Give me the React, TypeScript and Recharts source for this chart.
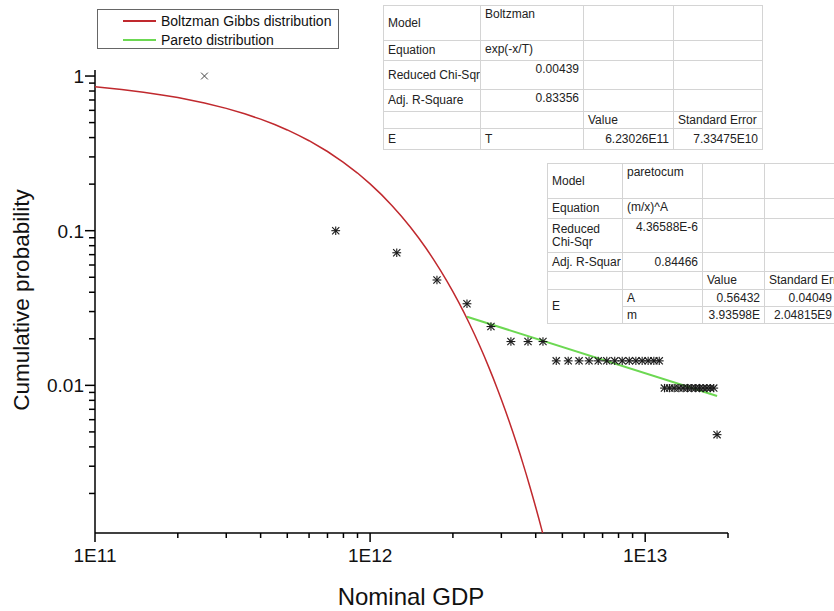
import React from "react";
import { ScatterChart, Scatter, XAxis, YAxis } from "recharts";

// observed points (nominal GDP, cumulative probability)
const gdp = [
  0.25e12, 0.75e12, 1.25e12, 1.75e12, 2.25e12, 2.75e12, 3.25e12, 3.75e12, 4.25e12,
  4.75e12, 5.25e12, 5.75e12, 6.25e12, 6.75e12, 7.25e12, 7.75e12, 8.25e12, 8.75e12,
  9.25e12, 9.75e12, 10.25e12, 10.75e12, 11.25e12,
  11.75e12, 12.25e12, 12.75e12, 13.25e12, 13.75e12, 14.25e12, 14.75e12, 15.25e12,
  15.75e12, 16.25e12, 16.75e12, 17.25e12, 17.75e12,
  18.25e12,
];
const cumProb = [
  1, 0.1, 0.072, 0.048, 0.0337, 0.024, 0.0192, 0.0192, 0.0192,
  0.0144, 0.0144, 0.0144, 0.0144, 0.0144, 0.0144, 0.0144, 0.0144, 0.0144,
  0.0144, 0.0144, 0.0144, 0.0144, 0.0144,
  0.0096, 0.0096, 0.0096, 0.0096, 0.0096, 0.0096, 0.0096, 0.0096,
  0.0096, 0.0096, 0.0096, 0.0096, 0.0096,
  0.0048,
];

// Boltzman Gibbs fit
const bgX = [
  1e11, 1.25e11, 1.5e11, 1.75e11, 2e11, 2.5e11, 3e11, 3.5e11, 4e11, 4.5e11, 5e11, 5.5e11,
  6e11, 7e11, 8e11, 9e11, 10e11, 11e11, 12e11, 13e11, 14e11, 15e11, 16e11, 17e11, 18e11,
  19e11, 20e11, 21e11, 22e11, 23e11, 24e11, 25e11, 26e11, 27e11, 28e11, 29e11, 30e11,
  31e11, 32e11, 33e11, 34e11, 35e11, 36e11, 37e11, 38e11, 39e11, 40e11, 41e11, 42e11,
  43e11, 44e11,
];
const bgY = [
  0.8517, 0.8182, 0.786, 0.7551, 0.7254, 0.6695, 0.6179, 0.5702, 0.5262, 0.4856, 0.4482,
  0.4136, 0.3817, 0.3251, 0.2769, 0.2359, 0.2009, 0.1711, 0.1457, 0.1241, 0.1057, 0.09,
  0.07667, 0.0653, 0.05562, 0.04737, 0.04036, 0.03437, 0.02928, 0.02493, 0.02124,
  0.01809, 0.01541, 0.01312, 0.01118, 0.009521, 0.008108, 0.006906, 0.005882, 0.00501,
  0.004267, 0.003634, 0.003095, 0.002636, 0.002245, 0.001912, 0.001629, 0.001387,
  0.001181, 0.001006, 0.000857,
];

// Pareto fit, straight in log-log
const paretoX = [2.25e12, 1.825e13];
const paretoY = [0.0278, 0.00853];

const X_TICKS = [
  1e11, 2e11, 3e11, 4e11, 5e11, 6e11, 7e11, 8e11, 9e11,
  1e12, 2e12, 3e12, 4e12, 5e12, 6e12, 7e12, 8e12, 9e12,
  1e13, 2e13,
];
const X_MAJOR = [1e11, 1e12, 1e13];
const Y_TICKS = [
  0.002, 0.003, 0.004, 0.005, 0.006, 0.007, 0.008, 0.009,
  0.01, 0.02, 0.03, 0.04, 0.05, 0.06, 0.07, 0.08, 0.09,
  0.1, 0.2, 0.3, 0.4, 0.5, 0.6, 0.7, 0.8, 0.9, 1,
];
const Y_MAJOR = [0.01, 0.1, 1];

const RED = "#c0292e";
const GREEN = "#6cd852";
const FONT = "'Liberation Sans', Arial, sans-serif";

const points = gdp.map((x, i) => ({ x, y: cumProb[i] }));
const bgLine = bgX.map((x, i) => ({ x, y: bgY[i] }));
const paretoLine = paretoX.map((x, i) => ({ x, y: paretoY[i] }));

function XTick({ x, y, payload }: any) {
  const major = X_MAJOR.includes(payload.value);
  return (
    <g>
      <line x1={x} y1={y} x2={x} y2={y + (major ? 9 : 5)} stroke="#000" strokeWidth={1.5} />
      {major && (
        <text x={x} y={y + 29} textAnchor="middle" fontSize={19} fontFamily={FONT} fill="#111">
          {"1E" + Math.round(Math.log10(payload.value))}
        </text>
      )}
    </g>
  );
}

function YTick({ x, y, payload }: any) {
  const major = Y_MAJOR.includes(payload.value);
  return (
    <g>
      <line x1={x} y1={y} x2={x - (major ? 10 : 6)} y2={y} stroke="#000" strokeWidth={1.5} />
      {major && (
        <text x={x - 11} y={y + 7} textAnchor="end" fontSize={19} fontFamily={FONT} fill="#111">
          {String(payload.value)}
        </text>
      )}
    </g>
  );
}

function Star({ cx, cy }: any) {
  const r = 3.6;
  return (
    <g stroke="#1a1a1a" strokeWidth={1.1}>
      <line x1={cx - r} y1={cy - r} x2={cx + r} y2={cy + r} />
      <line x1={cx - r} y1={cy + r} x2={cx + r} y2={cy - r} />
      <line x1={cx} y1={cy - r - 0.6} x2={cx} y2={cy + r + 0.6} />
      <line x1={cx - r - 0.8} y1={cy} x2={cx + r + 0.8} y2={cy} />
    </g>
  );
}

function Cross({ cx, cy }: any) {
  const r = 3.4;
  return (
    <g stroke="#444" strokeWidth={1}>
      <line x1={cx - r} y1={cy - r} x2={cx + r} y2={cy + r} />
      <line x1={cx - r} y1={cy + r} x2={cx + r} y2={cy - r} />
    </g>
  );
}

const cell: React.CSSProperties = {
  border: "1px solid #d4d4d4",
  padding: "0 4px",
  whiteSpace: "nowrap",
  overflow: "hidden",
  verticalAlign: "middle",
  textAlign: "left",
};
const topL: React.CSSProperties = { ...cell, verticalAlign: "top", paddingTop: 2 };
const topR: React.CSSProperties = { ...cell, verticalAlign: "top", paddingTop: 2, textAlign: "right" };
const right: React.CSSProperties = { ...cell, textAlign: "right" };

function BoltzmanTable() {
  return (
    <table
      style={{
        position: "absolute",
        left: 383,
        top: 5,
        borderCollapse: "collapse",
        tableLayout: "fixed",
        width: 379,
        background: "#fff",
        border: "1px solid #9a9a9a",
        fontSize: 12,
        color: "#222",
        lineHeight: "13px",
      }}
    >
      <colgroup>
        <col style={{ width: 97 }} />
        <col style={{ width: 103 }} />
        <col style={{ width: 90 }} />
        <col style={{ width: 89 }} />
      </colgroup>
      <tbody>
        <tr style={{ height: 35 }}>
          <td style={cell}>Model</td>
          <td style={topL}>Boltzman</td>
          <td style={cell} />
          <td style={cell} />
        </tr>
        <tr style={{ height: 20 }}>
          <td style={cell}>Equation</td>
          <td style={topL}>exp(-x/T)</td>
          <td style={cell} />
          <td style={cell} />
        </tr>
        <tr style={{ height: 29 }}>
          <td style={cell}>Reduced Chi-Sqr</td>
          <td style={topR}>0.00439</td>
          <td style={cell} />
          <td style={cell} />
        </tr>
        <tr style={{ height: 22 }}>
          <td style={cell}>Adj. R-Square</td>
          <td style={topR}>0.83356</td>
          <td style={cell} />
          <td style={cell} />
        </tr>
        <tr style={{ height: 17 }}>
          <td style={cell} />
          <td style={cell} />
          <td style={cell}>Value</td>
          <td style={cell}>Standard Error</td>
        </tr>
        <tr style={{ height: 21 }}>
          <td style={cell}>E</td>
          <td style={cell}>T</td>
          <td style={right}>6.23026E11</td>
          <td style={right}>7.33475E10</td>
        </tr>
      </tbody>
    </table>
  );
}

function ParetoTable() {
  return (
    <table
      style={{
        position: "absolute",
        left: 547,
        top: 163,
        borderCollapse: "collapse",
        tableLayout: "fixed",
        width: 289,
        background: "#fff",
        border: "1px solid #9a9a9a",
        fontSize: 12,
        color: "#222",
        lineHeight: "13px",
      }}
    >
      <colgroup>
        <col style={{ width: 75 }} />
        <col style={{ width: 80 }} />
        <col style={{ width: 62 }} />
        <col style={{ width: 72 }} />
      </colgroup>
      <tbody>
        <tr style={{ height: 35 }}>
          <td style={cell}>Model</td>
          <td style={topL}>paretocum</td>
          <td style={cell} />
          <td style={cell} />
        </tr>
        <tr style={{ height: 20 }}>
          <td style={cell}>Equation</td>
          <td style={topL}>(m/x)^A</td>
          <td style={cell} />
          <td style={cell} />
        </tr>
        <tr style={{ height: 34 }}>
          <td style={{ ...cell, whiteSpace: "normal" }}>
            Reduced
            <br />
            Chi-Sqr
          </td>
          <td style={topR}>4.36588E-6</td>
          <td style={cell} />
          <td style={cell} />
        </tr>
        <tr style={{ height: 19 }}>
          <td style={cell}>Adj. R-Squar</td>
          <td style={right}>0.84466</td>
          <td style={cell} />
          <td style={cell} />
        </tr>
        <tr style={{ height: 18 }}>
          <td style={cell} />
          <td style={cell} />
          <td style={cell}>Value</td>
          <td style={cell}>Standard Error</td>
        </tr>
        <tr style={{ height: 17 }}>
          <td style={cell} rowSpan={2}>E</td>
          <td style={cell}>A</td>
          <td style={right}>0.56432</td>
          <td style={right}>0.04049</td>
        </tr>
        <tr style={{ height: 17 }}>
          <td style={cell}>m</td>
          <td style={right}>3.93598E</td>
          <td style={right}>2.04815E9</td>
        </tr>
      </tbody>
    </table>
  );
}

function LegendBox() {
  const row: React.CSSProperties = { display: "flex", alignItems: "center", height: 19 };
  const swatch = (c: string): React.CSSProperties => ({
    display: "inline-block",
    width: 33,
    height: 2,
    background: c,
    marginLeft: 25,
    marginRight: 5,
  });
  return (
    <div
      style={{
        position: "absolute",
        left: 97,
        top: 9,
        width: 242,
        height: 40,
        border: "1px solid #666",
        background: "#fff",
        fontSize: 14,
        color: "#111",
        paddingTop: 1,
        boxSizing: "border-box",
      }}
    >
      <div style={row}>
        <span style={swatch(RED)} />
        Boltzman Gibbs distribution
      </div>
      <div style={row}>
        <span style={swatch(GREEN)} />
        Pareto distribution
      </div>
    </div>
  );
}

export default function App() {
  return (
    <div
      style={{
        position: "absolute",
        left: 0,
        top: 0,
        width: 834,
        height: 611,
        overflow: "hidden",
        background: "#fff",
        fontFamily: FONT,
      }}
    >
      <ScatterChart width={834} height={611} margin={{ top: 70, right: 106, bottom: 48, left: 35 }}>
        <XAxis
          type="number"
          dataKey="x"
          scale="log"
          domain={[1e11, 2e13]}
          allowDataOverflow
          ticks={X_TICKS}
          interval={0}
          height={30}
          tickSize={0}
          tickMargin={0}
          tickLine={false}
          axisLine={{ stroke: "#000", strokeWidth: 1.5 }}
          tick={<XTick />}
        />
        <YAxis
          type="number"
          dataKey="y"
          scale="log"
          domain={[0.00111, 1.094]}
          allowDataOverflow
          ticks={Y_TICKS}
          interval={0}
          width={60}
          tickSize={0}
          tickMargin={0}
          tickLine={false}
          axisLine={{ stroke: "#000", strokeWidth: 1.5 }}
          tick={<YTick />}
        />
        <Scatter
          data={bgLine}
          line={{ stroke: RED, strokeWidth: 1.5 }}
          lineType="joint"
          shape={() => <g />}
          isAnimationActive={false}
        />
        <Scatter
          data={paretoLine}
          line={{ stroke: GREEN, strokeWidth: 2 }}
          lineType="joint"
          shape={() => <g />}
          isAnimationActive={false}
        />
        <Scatter data={points.slice(0, 1)} shape={<Cross />} isAnimationActive={false} />
        <Scatter data={points.slice(1)} shape={<Star />} isAnimationActive={false} />
      </ScatterChart>

      <LegendBox />
      <BoltzmanTable />
      <ParetoTable />

      <div
        style={{
          position: "absolute",
          left: 0,
          width: 822,
          top: 583,
          textAlign: "center",
          fontSize: 24,
          color: "#111",
        }}
      >
        Nominal GDP
      </div>
      <div
        style={{
          position: "absolute",
          left: 22,
          top: 300,
          transform: "translate(-50%, -50%) rotate(-90deg)",
          whiteSpace: "nowrap",
          fontSize: 22.5,
          color: "#111",
        }}
      >
        Cumulative probability
      </div>
    </div>
  );
}
